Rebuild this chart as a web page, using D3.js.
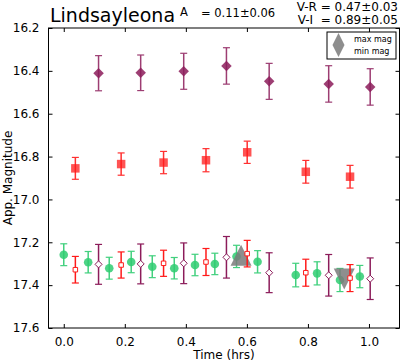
<!DOCTYPE html>
<html>
<head>
<meta charset="utf-8">
<script src="https://cdn.jsdelivr.net/npm/d3@7"></script>
<style>
  html, body { margin: 0; padding: 0; background: #fff; }
  svg { display: block; font-family: "DejaVu Sans", sans-serif; }
</style>
</head>
<body>
<svg id="chart" width="401" height="362"></svg>
<script>
// light curve values (time in hrs, magnitude, 1-sigma error)
const greenTimes = [0.0, 0.08, 0.149, 0.221, 0.29, 0.362, 0.43, 0.495, 0.566, 0.635, 0.76, 0.83, 0.905, 0.97]
const greenMags = [17.258, 17.293, 17.321, 17.292, 17.314, 17.321, 17.306, 17.301, 17.266, 17.291, 17.353, 17.345, 17.376, 17.36]
const greenErrs = [0.051, 0.05, 0.051, 0.05, 0.051, 0.05, 0.05, 0.05, 0.052, 0.052, 0.055, 0.054, 0.054, 0.052]

const redTimes = [0.038, 0.188, 0.327, 0.466, 0.601, 0.793, 0.938]
const redMags = [16.855, 16.835, 16.828, 16.817, 16.78, 16.871, 16.894]
const redErrs = [0.051, 0.052, 0.052, 0.054, 0.052, 0.053, 0.053]
const redShiftMags = [17.328, 17.306, 17.298, 17.292, 17.253, 17.342, 17.367]
const redShiftErrs = [0.062, 0.061, 0.061, 0.063, 0.062, 0.063, 0.063]

const purpleTimes = [0.114, 0.252, 0.393, 0.533, 0.673, 0.868, 1.004]
const purpleMags = [16.411, 16.409, 16.402, 16.377, 16.449, 16.461, 16.475]
const purpleErrs = [0.082, 0.083, 0.084, 0.085, 0.084, 0.085, 0.085]
const purpleShiftMags = [17.303, 17.301, 17.298, 17.27, 17.342, 17.354, 17.37]
const purpleShiftErrs = [0.093, 0.093, 0.095, 0.097, 0.093, 0.097, 0.097]

const extremeTimes = [0.581, 0.919]
const extremeMags = [17.261, 17.371]
const extremeKinds = ['max', 'min']

const xTicks = [0.0, 0.2, 0.4, 0.6, 0.8, 1.0]
const yTicks = [16.2, 16.4, 16.6, 16.8, 17.0, 17.2, 17.4, 17.6]

const starName = 'Lindsayleona'
const amplitudeText = '= 0.11±0.06'
const colorTexts = ['V-R = 0.47±0.03', 'V-I  = 0.89±0.05']
const legendLabels = ['max mag', 'min mag']

const PURPLE = '#8c1c5a'
const RED = '#ff1a1a'
const GREEN = '#2ecc71'
const GREY = '#7a7a7a'

const svg = d3.select('#chart')
const frame = { left: 48.5, right: 399.5, top: 28, bottom: 328 }

const x = d3.scaleLinear().domain([-0.05, 1.1]).range([frame.left, frame.right])
const y = d3.scaleLinear().domain([16.2, 17.6]).range([frame.top, frame.bottom])

const zip = (times, mags, errs) => times.map((t, i) => ({ t, m: mags[i], e: errs ? errs[i] : 0 }))

/**
 * Vertical error bars with caps
 */
const appendErrorBars = (d3Selection, rows, color, capHalf, opacity = 1) => {
    const g = d3Selection.append('g')
        .attr('stroke', color)
        .attr('stroke-width', 1.5)
        .attr('opacity', opacity)
    rows.forEach(d => {
        g.append('line')
            .attr('x1', x(d.t)).attr('x2', x(d.t))
            .attr('y1', y(d.m - d.e)).attr('y2', y(d.m + d.e))
        ;[d.m - d.e, d.m + d.e].forEach(v => {
            g.append('line')
                .attr('x1', x(d.t) - capHalf).attr('x2', x(d.t) + capHalf)
                .attr('y1', y(v)).attr('y2', y(v))
                .attr('stroke-width', 1.2)
        })
    })
    return g
}

const appendMarkers = (d3Selection, rows, symbolType, size, fill, stroke, opacity = 1) => {
    const path = d3.symbol().type(symbolType).size(size)
    d3Selection.append('g')
        .selectAll('path')
        .data(rows)
        .join('path')
        .attr('d', path)
        .attr('transform', d => `translate(${x(d.t)},${y(d.m)})`)
        .attr('fill', fill)
        .attr('fill-opacity', opacity)
        .attr('stroke', stroke || 'none')
        .attr('stroke-width', 1)
}

// diamond as a square rotated by 45 degrees
const diamond = {
    draw(context, size) {
        const r = Math.sqrt(size) / 2
        context.moveTo(0, -r)
        context.lineTo(r, 0)
        context.lineTo(0, r)
        context.lineTo(-r, 0)
        context.closePath()
    }
}

const triangle = dir => ({
    draw(context, size) {
        const h = Math.sqrt(size) / 2
        context.moveTo(0, -h * dir)
        context.lineTo(h, h * dir)
        context.lineTo(-h, h * dir)
        context.closePath()
    }
})

const plot = svg.append('g')

// lower group: V plus colour-shifted R and I
const greenRows = zip(greenTimes, greenMags, greenErrs)
appendErrorBars(plot, greenRows, GREEN, 3.5, 0.9)
appendMarkers(plot, greenRows, d3.symbolCircle, Math.PI * 4.3 * 4.3, GREEN, null, 0.85)

const extremeRows = extremeTimes.map((t, i) => ({ t, m: extremeMags[i], kind: extremeKinds[i] }))
plot.append('g')
    .selectAll('path')
    .data(extremeRows)
    .join('path')
    .attr('d', d => d3.symbol().type(triangle(d.kind === 'max' ? 1 : -1)).size(21 * 21)())
    .attr('transform', d => `translate(${x(d.t)},${y(d.m)})`)
    .attr('fill', GREY)
    .attr('fill-opacity', 0.85)

const redShiftRows = zip(redTimes, redShiftMags, redShiftErrs)
appendErrorBars(plot, redShiftRows, RED, 3.5)
appendMarkers(plot, redShiftRows, d3.symbolSquare, 4.5 * 4.5, '#fff', RED)

const purpleShiftRows = zip(purpleTimes, purpleShiftMags, purpleShiftErrs)
appendErrorBars(plot, purpleShiftRows, PURPLE, 3.5)
appendMarkers(plot, purpleShiftRows, diamond, 7 * 7, '#fff', PURPLE)

// upper groups: R and I
const redRows = zip(redTimes, redMags, redErrs)
appendErrorBars(plot, redRows, RED, 3.5, 0.9)
appendMarkers(plot, redRows, d3.symbolSquare, 8.5 * 8.5, RED, null, 0.75)

const purpleRows = zip(purpleTimes, purpleMags, purpleErrs)
appendErrorBars(plot, purpleRows, PURPLE, 3.5, 0.85)
appendMarkers(plot, purpleRows, diamond, 10.5 * 10.5, PURPLE, null, 0.85)

// frame and inward ticks on all four sides
const axes = svg.append('g')
const tickLen = 4
const addTicks = (axis, pos, scale, ticks, fmt, showLabels) => {
    const g = axes.append('g').attr('transform', pos)
        .call(axis(scale).tickValues(ticks).tickSizeInner(-tickLen).tickSizeOuter(0)
            .tickPadding(showLabels ? 9 : 0).tickFormat(showLabels ? fmt : ''))
    g.select('.domain').remove()
    g.selectAll('.tick line').attr('stroke', '#000')
    g.selectAll('.tick text')
        .attr('font-family', '"DejaVu Sans", sans-serif')
        .attr('font-size', 12)
        .attr('fill', '#000')
    return g
}
addTicks(d3.axisBottom, `translate(0,${frame.bottom})`, x, xTicks, d3.format('.1f'), true)
addTicks(d3.axisTop, `translate(0,${frame.top})`, x, xTicks, d3.format('.1f'), false)
addTicks(d3.axisLeft, `translate(${frame.left},0)`, y, yTicks, d3.format('.1f'), true)
addTicks(d3.axisRight, `translate(${frame.right},0)`, y, yTicks, d3.format('.1f'), false)

axes.append('rect')
    .attr('x', frame.left).attr('y', frame.top)
    .attr('width', frame.right - frame.left).attr('height', frame.bottom - frame.top)
    .attr('fill', 'none').attr('stroke', '#000').attr('stroke-width', 1)

// axis labels
svg.append('text')
    .attr('x', (frame.left + frame.right) / 2).attr('y', 359)
    .attr('text-anchor', 'middle').attr('font-size', 12)
    .text('Time (hrs)')
svg.append('text')
    .attr('transform', `translate(12,${(frame.top + frame.bottom) / 2}) rotate(-90)`)
    .attr('text-anchor', 'middle').attr('font-size', 12)
    .text('App. Magnitude')

// title and photometry summary
svg.append('text').attr('x', 50).attr('y', 22).attr('font-size', 19).text(starName)
svg.append('text').attr('x', 180).attr('y', 16).attr('font-size', 11.5).text('A')
svg.append('text').attr('x', 201).attr('y', 17).attr('font-size', 11.5).text(amplitudeText)
colorTexts.forEach((t, i) => {
    svg.append('text')
        .attr('x', 398).attr('y', 10.5 + i * 13)
        .attr('text-anchor', 'end').attr('font-size', 12)
        .style('white-space', 'pre')
        .text(t)
})

// legend
const legend = svg.append('g').attr('transform', 'translate(327,32)')
legend.append('rect')
    .attr('width', 69).attr('height', 27)
    .attr('fill', '#fff').attr('stroke', '#000').attr('stroke-width', 1)
;[1, -1].forEach((dir, i) => {
    legend.append('path')
        .attr('d', d3.symbol().type(triangle(dir)).size(12 * 12)())
        .attr('transform', `translate(11.5,${i === 0 ? 7 : 19})`)
        .attr('fill', GREY).attr('fill-opacity', 0.85)
})
legendLabels.forEach((label, i) => {
    legend.append('text')
        .attr('x', 27).attr('y', 9.5 + i * 12.5)
        .attr('font-size', 8)
        .text(label)
})
</script>
</body>
</html>
